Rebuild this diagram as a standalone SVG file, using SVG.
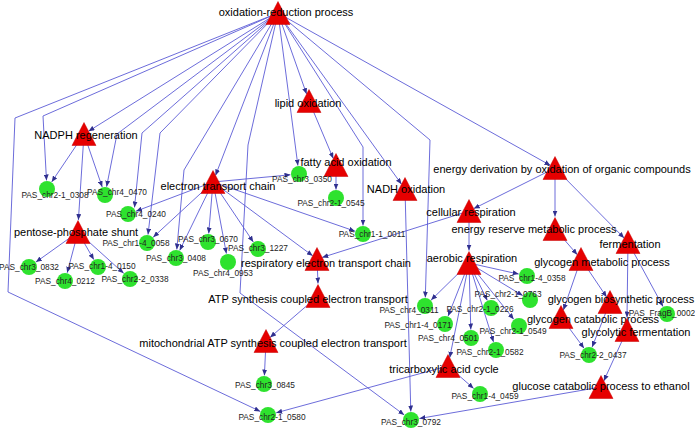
<svg xmlns="http://www.w3.org/2000/svg" width="695" height="428" viewBox="0 0 695 428">
<style>
.e{fill:none;stroke:#5b5bd6;stroke-width:0.9;marker-end:url(#ah)}
.t{fill:#e60000;stroke:#c80000;stroke-width:0.5}
.c{fill:#2ee22e}
.pl{font-family:"Liberation Sans",Arial,sans-serif;font-size:11px;fill:#000;text-anchor:middle}
.gl{font-family:"Liberation Sans",Arial,sans-serif;font-size:8.3px;fill:#222;text-anchor:middle}
</style>
<defs>
<marker id="ah" markerUnits="userSpaceOnUse" markerWidth="6" markerHeight="5" viewBox="0 0 6 5" refX="6" refY="2.5" orient="auto"><path d="M0,0 L6,2.5 L0,5 z" fill="#30308f"/></marker>
<polygon id="tri" class="t" points="0,-11.5 12,11.5 -12,11.5"/>
</defs>
<rect width="695" height="428" fill="#fff"/>
<g id="connectors">
<path class="e" d="M278,13 L15,118 L8,292 L260.3,411.4"/>
<path class="e" d="M278,13 L43,116 L46.5,180.5"/>
<path class="e" d="M278,13 L88.5,131.2"/>
<path class="e" d="M278,13 L117,134 L106.6,186.7"/>
<path class="e" d="M278,13 L142,133 L134.5,207.5"/>
<path class="e" d="M278,13 L160,133 L148,234.6"/>
<path class="e" d="M278,13 L184,170 L176.8,249.5"/>
<path class="e" d="M278,13 L215.5,175.4"/>
<path class="e" d="M278,13 L248,145 L240,293 L404.2,414.9"/>
<path class="e" d="M278,13 L297.9,165.6"/>
<path class="e" d="M278,13 L306.6,94.1"/>
<path class="e" d="M278,13 L363,147 L363,225.5"/>
<path class="e" d="M278,13 L401.5,184.2"/>
<path class="e" d="M278,13 L430,140 L425.3,297.5"/>
<path class="e" d="M278,13 L550.4,165.4"/>
<path class="e" d="M84,134 L51.7,181.9"/>
<path class="e" d="M84,134 L102.2,187"/>
<path class="e" d="M84,134 L78.4,220"/>
<path class="e" d="M78,232 L35.9,262.1"/>
<path class="e" d="M78,232 L67.2,272.8"/>
<path class="e" d="M78,232 L93.8,259.6"/>
<path class="e" d="M78,232 L123.7,273.3"/>
<path class="e" d="M213,182 L136,211.2"/>
<path class="e" d="M213,182 L153.2,237.2"/>
<path class="e" d="M213,182 L179.7,250.4"/>
<path class="e" d="M213,182 L208.7,233.5"/>
<path class="e" d="M213,182 L226.4,253.6"/>
<path class="e" d="M213,182 L253.3,242"/>
<path class="e" d="M213,182 L312.7,255.8"/>
<path class="e" d="M213,182 L355,231.2"/>
<path class="e" d="M213,182 L290.5,174.8"/>
<path class="e" d="M309,101 L333.3,158.6"/>
<path class="e" d="M336,165 L336,189.5"/>
<path class="e" d="M405,189 L410.8,411.5"/>
<path class="e" d="M555,168 L473.8,208.6"/>
<path class="e" d="M555,168 L555,216.5"/>
<path class="e" d="M555,168 L624.1,238"/>
<path class="e" d="M469,211 L322.2,257.4"/>
<path class="e" d="M469,211 L469,250.5"/>
<path class="e" d="M555,229 L577.3,254.7"/>
<path class="e" d="M581,259 L563.4,310.1"/>
<path class="e" d="M581,259 L606.6,297"/>
<path class="e" d="M561,317 L584,348.2"/>
<path class="e" d="M610,302 L592.1,347.1"/>
<path class="e" d="M628,242 L627,317.5"/>
<path class="e" d="M628,242 L663,306.5"/>
<path class="e" d="M627,330 L603.8,380.9"/>
<path class="e" d="M601,387 L419.4,418.5"/>
<path class="e" d="M469,263 L518.7,274.1"/>
<path class="e" d="M469,263 L522.7,295.6"/>
<path class="e" d="M469,263 L513.7,319.3"/>
<path class="e" d="M469,263 L487.3,300.4"/>
<path class="e" d="M469,263 L493.5,341.9"/>
<path class="e" d="M469,263 L470.8,329.5"/>
<path class="e" d="M469,263 L448.1,316.1"/>
<path class="e" d="M469,263 L449.7,357.7"/>
<path class="e" d="M469,263 L431.1,300.1"/>
<path class="e" d="M448,366 L473.6,388.4"/>
<path class="e" d="M448,366 L276.2,412.8"/>
<path class="e" d="M317,259 L318,283.5"/>
<path class="e" d="M318,296 L270.1,337.4"/>
<path class="e" d="M266,341 L264.4,375.5"/>
</g>
<g id="n_oxred"><use href="#tri" x="278" y="13"/><text class="pl" x="286" y="16">oxidation-reduction process</text></g>
<g id="n_lipid"><use href="#tri" x="309" y="101"/><text class="pl" x="308" y="107">lipid oxidation</text></g>
<g id="n_nadph"><use href="#tri" x="84" y="134"/><text class="pl" x="86" y="139">NADPH regeneration</text></g>
<g id="n_etc"><use href="#tri" x="213" y="182"/><text class="pl" x="218" y="190">electron transport chain</text></g>
<g id="n_pentose"><use href="#tri" x="78" y="232"/><text class="pl" x="76" y="236">pentose-phosphate shunt</text></g>
<g id="n_fatty"><use href="#tri" x="336" y="165"/><text class="pl" x="346" y="166">fatty acid oxidation</text></g>
<g id="n_nadh"><use href="#tri" x="405" y="189"/><text class="pl" x="406" y="193">NADH oxidation</text></g>
<g id="n_respetc"><use href="#tri" x="317" y="259"/><text class="pl" x="326" y="267">respiratory electron transport chain</text></g>
<g id="n_atp"><use href="#tri" x="318" y="296"/><text class="pl" x="308" y="303">ATP synthesis coupled electron transport</text></g>
<g id="n_mito"><use href="#tri" x="266" y="341"/><text class="pl" x="273" y="347">mitochondrial ATP synthesis coupled electron transport</text></g>
<g id="n_tca"><use href="#tri" x="448" y="366"/><text class="pl" x="444" y="373">tricarboxylic acid cycle</text></g>
<g id="n_glcethanol"><use href="#tri" x="601" y="387"/><text class="pl" x="601" y="390">glucose catabolic process to ethanol</text></g>
<g id="n_energyderiv"><use href="#tri" x="555" y="168"/><text class="pl" x="562" y="173">energy derivation by oxidation of organic compounds</text></g>
<g id="n_cellresp"><use href="#tri" x="469" y="211"/><text class="pl" x="471" y="216">cellular respiration</text></g>
<g id="n_energyres"><use href="#tri" x="555" y="229"/><text class="pl" x="534" y="233">energy reserve metabolic process</text></g>
<g id="n_ferment"><use href="#tri" x="628" y="242"/><text class="pl" x="630" y="248">fermentation</text></g>
<g id="n_aerobic"><use href="#tri" x="469" y="263"/><text class="pl" x="472" y="262">aerobic respiration</text></g>
<g id="n_glymet"><use href="#tri" x="581" y="259"/><text class="pl" x="602" y="266">glycogen metabolic process</text></g>
<g id="n_glybio"><use href="#tri" x="610" y="302"/><text class="pl" x="621" y="303">glycogen biosynthetic process</text></g>
<g id="n_glycat"><use href="#tri" x="561" y="317"/><text class="pl" x="593" y="323">glycogen catabolic process</text></g>
<g id="n_glycolytic"><use href="#tri" x="627" y="330"/><text class="pl" x="636" y="336">glycolytic fermentation</text></g>
<g id="g_chr2-1_0308"><circle class="c" cx="47" cy="189" r="8"/><text class="gl" x="55" y="198">PAS_chr2-1_0308</text></g>
<g id="g_chr4_0470"><circle class="c" cx="105" cy="195" r="8"/><text class="gl" x="117" y="195">PAS_chr4_0470</text></g>
<g id="g_chr4_0240"><circle class="c" cx="128" cy="214" r="8"/><text class="gl" x="136" y="217">PAS_chr4_0240</text></g>
<g id="g_chr1-4_0058"><circle class="c" cx="147" cy="243" r="8"/><text class="gl" x="136" y="246">PAS_chr1-4_0058</text></g>
<g id="g_chr3_0670"><circle class="c" cx="208" cy="242" r="8"/><text class="gl" x="208" y="242">PAS_chr3_0670</text></g>
<g id="g_chr3_0408"><circle class="c" cx="176" cy="258" r="8"/><text class="gl" x="176" y="261">PAS_chr3_0408</text></g>
<g id="g_chr3_1227"><circle class="c" cx="258" cy="249" r="8"/><text class="gl" x="258" y="251">PAS_chr3_1227</text></g>
<g id="g_chr4_0953"><circle class="c" cx="228" cy="262" r="8"/><text class="gl" x="223" y="276">PAS_chr4_0953</text></g>
<g id="g_chr3_0350"><circle class="c" cx="299" cy="174" r="8"/><text class="gl" x="302" y="182">PAS_chr3_0350</text></g>
<g id="g_chr2-1_0545"><circle class="c" cx="336" cy="198" r="8"/><text class="gl" x="331" y="206">PAS_chr2-1_0545</text></g>
<g id="g_chr1-1_0011"><circle class="c" cx="363" cy="234" r="8"/><text class="gl" x="372" y="237">PAS_chr1-1_0011</text></g>
<g id="g_chr3_0832"><circle class="c" cx="29" cy="267" r="8"/><text class="gl" x="29" y="270">PAS_chr3_0832</text></g>
<g id="g_chr4_0212"><circle class="c" cx="65" cy="281" r="8"/><text class="gl" x="65" y="284">PAS_chr4_0212</text></g>
<g id="g_chr1-4_0150"><circle class="c" cx="98" cy="267" r="8"/><text class="gl" x="102" y="269">PAS_chr1-4_0150</text></g>
<g id="g_chr2-2_0338"><circle class="c" cx="130" cy="279" r="8"/><text class="gl" x="135" y="282">PAS_chr2-2_0338</text></g>
<g id="g_chr3_0845"><circle class="c" cx="264" cy="384" r="8"/><text class="gl" x="265" y="388">PAS_chr3_0845</text></g>
<g id="g_chr2-1_0580"><circle class="c" cx="268" cy="415" r="8"/><text class="gl" x="272" y="420">PAS_chr2-1_0580</text></g>
<g id="g_chr3_0792"><circle class="c" cx="411" cy="420" r="8"/><text class="gl" x="411" y="425">PAS_chr3_0792</text></g>
<g id="g_chr4_0311"><circle class="c" cx="425" cy="306" r="8"/><text class="gl" x="409" y="313">PAS_chr4_0311</text></g>
<g id="g_chr1-4_0171"><circle class="c" cx="445" cy="324" r="8"/><text class="gl" x="418" y="328">PAS_chr1-4_0171</text></g>
<g id="g_chr4_0501"><circle class="c" cx="471" cy="338" r="8"/><text class="gl" x="448" y="341">PAS_chr4_0501</text></g>
<g id="g_chr2-1_0582"><circle class="c" cx="496" cy="350" r="8"/><text class="gl" x="490" y="355">PAS_chr2-1_0582</text></g>
<g id="g_chr2-1_0226"><circle class="c" cx="491" cy="308" r="8"/><text class="gl" x="480" y="312">PAS_chr2-1_0226</text></g>
<g id="g_chr2-1_0763"><circle class="c" cx="530" cy="300" r="8"/><text class="gl" x="508" y="297">PAS_chr2-1_0763</text></g>
<g id="g_chr2-1_0549"><circle class="c" cx="519" cy="326" r="8"/><text class="gl" x="513" y="334">PAS_chr2-1_0549</text></g>
<g id="g_chr1-4_0358"><circle class="c" cx="527" cy="276" r="8"/><text class="gl" x="532" y="281">PAS_chr1-4_0358</text></g>
<g id="g_fragb_0002"><circle class="c" cx="667" cy="314" r="8"/><text class="gl" x="662" y="316">PAS_FragB_0002</text></g>
<g id="g_chr2-2_0437"><circle class="c" cx="589" cy="355" r="8"/><text class="gl" x="593" y="358">PAS_chr2-2_0437</text></g>
<g id="g_chr1-4_0459"><circle class="c" cx="480" cy="394" r="8"/><text class="gl" x="485" y="399">PAS_chr1-4_0459</text></g>
</svg>
